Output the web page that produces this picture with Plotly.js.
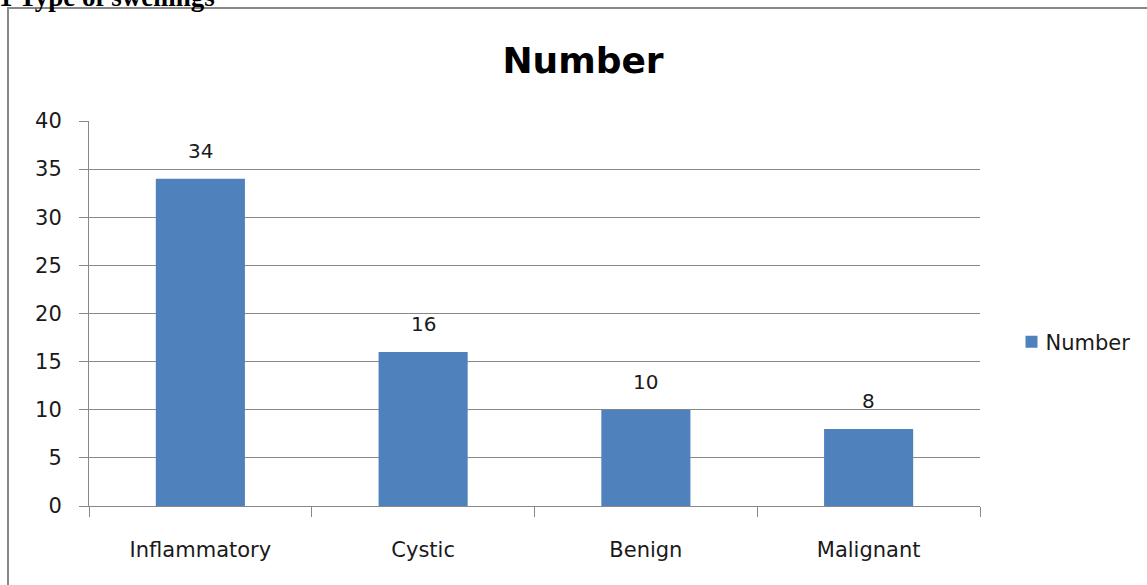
<!DOCTYPE html>
<html>
<head>
<meta charset="utf-8">
<script src="https://cdn.plot.ly/plotly-3.0.1.min.js"></script>
<style>
html,body{margin:0;padding:0;background:#fff;}
#chart{width:1147px;height:585px;}
</style>
</head>
<body>
<div id="chart"></div>
<script>
const categories = ["Inflammatory", "Cystic", "Benign", "Malignant"];
const numbers = [34, 16, 10, 8];
const seriesName = "Number";
const yTicks = [0, 5, 10, 15, 20, 25, 30, 35, 40];

const font = "'DejaVu Sans', 'Open Sans', sans-serif";
const gray = "#888888";
const textColor = "#1a1a1a";

const trace = {
  type: "bar",
  x: categories,
  y: numbers,
  name: seriesName,
  marker: {color: "#4F81BD"},
  hoverinfo: "x+y"
};

const labelAnns = categories.map((c, i) => ({
  x: c, y: numbers[i], xref: "x", yref: "y",
  text: String(numbers[i]), showarrow: false,
  yanchor: "middle", yshift: 28,
  font: {family: font, size: 20, color: textColor}
}));

const layout = {
  width: 1147, height: 585,
  margin: {l: 89, r: 167, t: 121, b: 79, autoexpand: false},
  paper_bgcolor: "#fff", plot_bgcolor: "#fff",
  bargap: 0.6,
  showlegend: true,
  title: {
    text: "<b>Number</b>",
    font: {family: font, size: 36, color: "#000"},
    xref: "container", x: 583 / 1147, xanchor: "center",
    yref: "container", y: 1 - 60 / 585, yanchor: "middle"
  },
  xaxis: {
    type: "category",
    tickson: "boundaries",
    ticks: "outside", ticklen: 10, tickcolor: gray, tickwidth: 1,
    showline: true, linecolor: gray, linewidth: 1,
    showgrid: false, zeroline: false,
    ticklabelstandoff: 25,
    tickfont: {family: font, size: 21, color: textColor},
    fixedrange: true
  },
  yaxis: {
    range: [0, 40],
    tickvals: yTicks,
    ticktext: yTicks.map(String),
    ticks: "outside", ticklen: 9, tickcolor: gray, tickwidth: 1,
    showline: true, linecolor: gray, linewidth: 1,
    showgrid: true, gridcolor: gray, gridwidth: 1,
    zeroline: false,
    ticklabelstandoff: 13,
    tickfont: {family: font, size: 21, color: textColor},
    fixedrange: true
  },
  legend: {
    xref: "container", x: 1011.5 / 1147, xanchor: "left",
    y: (506 - 342) / 385, yanchor: "middle",
    font: {family: font, size: 21, color: textColor},
    bgcolor: "rgba(0,0,0,0)",
    itemwidth: 30
  },
  shapes: [{
    type: "rect", xref: "paper", yref: "paper", layer: "below",
    x0: (8 - 89) / 891, x1: (1160 - 89) / 891,
    y0: (506 - 600) / 385, y1: (506 - 8) / 385,
    line: {color: gray, width: 2}, fillcolor: "rgba(0,0,0,0)"
  }],
  annotations: labelAnns.concat([{
    xref: "paper", yref: "paper",
    x: (-3 - 89) / 891, y: (506 + 3) / 385,
    xanchor: "left", yanchor: "middle",
    text: "<b>1 Type of swellings</b>", showarrow: false,
    font: {family: "'Liberation Serif', 'DejaVu Serif', serif", size: 27, color: "#000"}
  }])
};

Plotly.newPlot("chart", [trace], layout, {displayModeBar: false, staticPlot: true}).then(() => {
  document.querySelectorAll("#chart .legendtext").forEach(t => {
    const x = parseFloat(t.getAttribute("x")) || 40;
    t.setAttribute("x", x - 6);
  });
});
</script>
</body>
</html>
